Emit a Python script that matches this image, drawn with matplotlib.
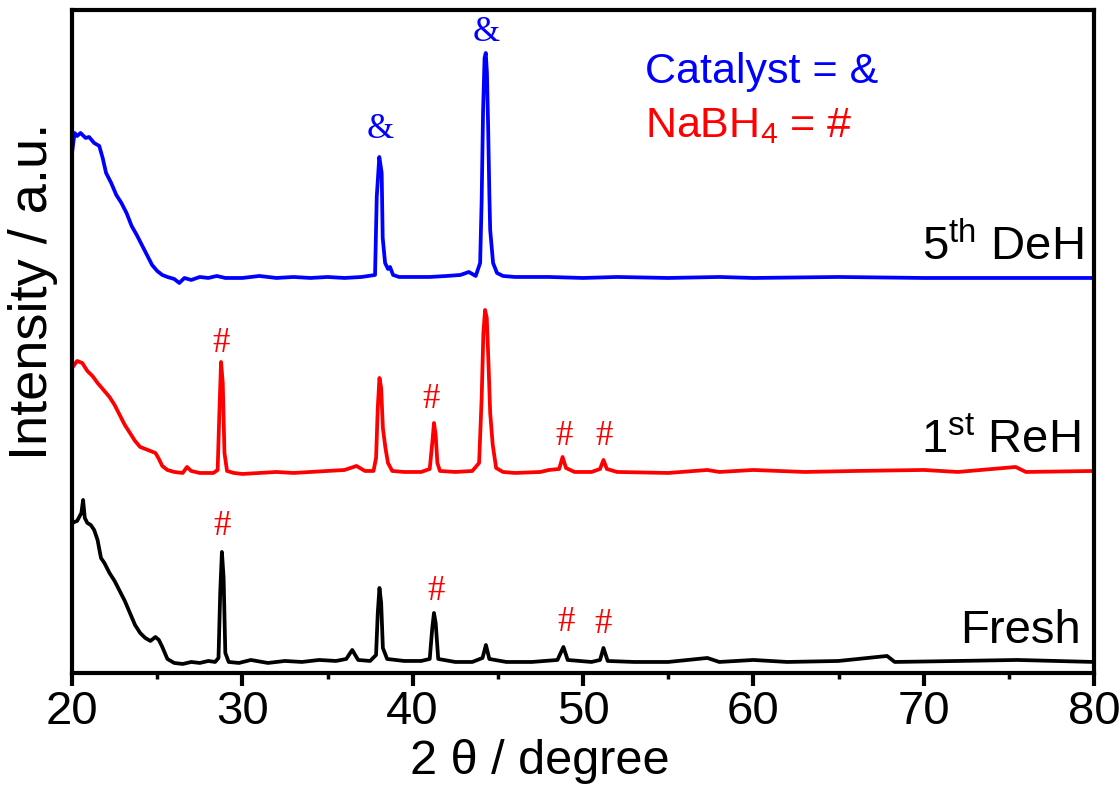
import matplotlib
matplotlib.use("Agg")
import matplotlib.pyplot as plt
from matplotlib.ticker import MultipleLocator

# XRD patterns, intensity in arbitrary units (curves already offset)
deh_x = [20.0, 20.15, 20.3, 20.5, 20.8, 21.0, 21.3, 21.6, 21.8, 22.0, 22.3, 22.6, 22.9,
         23.2, 23.5, 23.8, 24.1, 24.4, 24.7, 25.0, 25.3, 25.6, 26.0, 26.3, 26.6, 27.0,
         27.5, 28.0, 28.5, 29.0, 30.0, 31.0, 32.0, 33.0, 34.0, 35.0, 36.0, 37.0, 37.79,
         37.89, 38.04, 38.18, 38.24, 38.38, 38.55, 38.67, 38.85, 39.2, 40.0, 41.0, 42.0,
         42.8, 43.3, 43.7, 43.96, 44.05, 44.13, 44.22, 44.29, 44.36, 44.43, 44.5, 44.55,
         44.72, 44.95, 45.3, 46.0, 48.0, 50.0, 52.0, 55.0, 58.0, 60.0, 65.0, 70.0, 75.0, 80.0]
deh_y = [520, 540, 537, 540, 535, 536, 530, 527, 515, 500, 490, 478, 470,
         460, 447, 438, 428, 418, 408, 402, 398, 396, 394, 390, 395, 393,
         396, 395, 397, 395, 395, 397, 395, 396, 395, 396, 395, 396, 398,
         476, 516, 500, 435, 410, 404, 406, 398, 396, 396, 396, 397,
         398, 401, 397, 410, 473, 560, 615, 620, 600, 546, 480, 443,
         410, 400, 397, 396, 396, 395, 396, 395, 396, 395, 396, 395, 395, 395]

reh_x = [20.0, 20.3, 20.6, 20.9, 21.2, 21.5, 21.8, 22.2, 22.5, 22.8, 23.1, 23.4, 23.7,
         24.0, 24.3, 24.6, 24.9, 25.1, 25.3, 25.6, 26.0, 26.5, 26.75, 27.0, 27.5, 28.3,
         28.55, 28.65, 28.75, 28.85, 28.95, 29.1, 29.5, 30.0, 31.0, 32.0, 33.0, 34.0,
         35.0, 36.0, 36.7, 37.2, 37.7, 37.85, 37.95, 38.05, 38.15, 38.25, 38.4, 38.55,
         38.8, 39.5, 40.5, 41.0, 41.15, 41.25, 41.35, 41.45, 41.6, 42.5, 43.5, 43.9,
         44.05, 44.15, 44.25, 44.35, 44.45, 44.55, 44.7, 44.9, 45.3, 46.0, 47.5, 48.0,
         48.6, 48.8, 49.0, 49.5, 50.5, 51.0, 51.2, 51.4, 52.0, 55.0, 57.3, 58.0, 60.0,
         63.0, 66.0, 70.0, 72.0, 75.4, 76.0, 80.0]
reh_y = [305, 312, 310, 302, 297, 290, 284, 276, 268, 258, 248, 240, 232,
         226, 224, 222, 220, 214, 207, 203, 201, 200, 206, 202, 200, 200,
         203, 260, 311, 290, 220, 202, 200, 199, 200, 201, 200, 201,
         202, 203, 207, 202, 202, 215, 265, 295, 285, 245, 225, 210,
         202, 201, 201, 204, 230, 250, 238, 210, 202, 201, 202, 210,
         275, 340, 363, 355, 310, 260, 228, 205, 201, 200, 201, 203,
         204, 216, 205, 201, 201, 204, 213, 204, 201, 200, 203, 201, 203,
         201, 202, 203, 201, 206, 201, 202]

fresh_x = [20.0, 20.3, 20.55, 20.65, 20.75, 20.9, 21.1, 21.3, 21.5, 21.7, 21.9, 22.2,
           22.5, 22.8, 23.1, 23.4, 23.7, 24.0, 24.3, 24.6, 24.9, 25.1, 25.3, 25.6, 26.0,
           26.5, 27.0, 27.5, 28.0, 28.4, 28.6, 28.7, 28.8, 28.9, 29.0, 29.2, 29.8, 30.5,
           31.5, 32.5, 33.5, 34.5, 35.5, 36.1, 36.45, 36.8, 37.5, 37.85, 37.95, 38.05,
           38.15, 38.25, 38.5, 39.5, 40.5, 41.0, 41.15, 41.25, 41.35, 41.5, 42.5, 43.5,
           44.1, 44.3, 44.5, 45.5, 47.0, 48.5, 48.85, 49.1, 50.5, 51.0, 51.2, 51.45, 53.0,
           55.0, 57.3, 58.0, 60.0, 62.0, 65.0, 67.85, 68.3, 72.0, 75.5, 80.0]
fresh_y = [150, 152, 160, 173, 155, 150, 148, 143, 133, 115, 110, 100,
           92, 82, 72, 60, 48, 40, 35, 32, 36, 33, 26, 14, 10,
           9, 11, 10, 12, 11, 15, 80, 121, 95, 20, 11, 10, 13,
           10, 12, 11, 13, 12, 14, 23, 13, 12, 18, 60, 85,
           70, 25, 14, 12, 12, 14, 45, 60, 50, 14, 11, 11,
           15, 28, 14, 11, 11, 13, 26, 13, 11, 13, 25, 12, 11,
           11, 15, 11, 13, 11, 12, 17, 11, 12, 13, 11]

# phase markers: (position, height)
cat_marks = [(38.1, 543), (44.3, 640)]
nabh4_marks = [(28.75, 329), (41.05, 273), (48.9, 236), (51.25, 236),
               (28.8, 146), (41.4, 81), (49.0, 50), (51.2, 48)]

# sample labels: (text, right edge, baseline)
labels = [("5$^{\\rm th}$ DeH", 79.35, 413),
          ("1$^{\\rm st}$ ReH", 79.2, 220),
          ("Fresh", 79.2, 30)]

plt.rcParams['font.family'] = ['Liberation Sans', 'DejaVu Sans']
plt.rcParams['mathtext.fontset'] = 'custom'
plt.rcParams['mathtext.rm'] = 'Liberation Sans'
plt.rcParams['mathtext.it'] = 'Liberation Sans:italic'

fig = plt.figure(figsize=(11.2, 7.92), dpi=100)
ax = fig.add_axes([0.0643, 0.1503, 0.9125, 0.8371])

ax.plot(fresh_x, fresh_y, color="black", lw=2.7)
ax.plot(reh_x, reh_y, color="red", lw=2.7)
ax.plot(deh_x, deh_y, color="blue", lw=2.7)

for x, y in cat_marks:
    ax.text(x, y, "&", color="blue", fontsize=25, family="Liberation Serif",
            ha="center", va="center")
for x, y in nabh4_marks:
    ax.text(x, y, "#", color="red", fontsize=25, family="Liberation Serif",
            ha="center", va="center")

for txt, x, y in labels:
    ax.text(x, y, txt, fontsize=34, ha="right", va="baseline")

ax.text(53.65, 590, "Catalyst = &", color="blue", fontsize=31, va="baseline")
ax.text(53.65, 536, "NaBH$_4$ = #", color="red", fontsize=31, va="baseline")

ax.set_xlim(20, 80)
ax.set_ylim(0, 663)
ax.xaxis.set_major_locator(MultipleLocator(10))
ax.xaxis.set_minor_locator(MultipleLocator(5))
ax.set_yticks([])
ax.tick_params(axis="x", which="major", direction="out", length=9, width=3,
               labelsize=34, pad=3)
ax.tick_params(axis="x", which="minor", direction="out", length=4.5, width=2.5)
for s in ax.spines.values():
    s.set_linewidth(3)

ax.set_xlabel("2 θ / degree", fontsize=35)
ax.set_ylabel("Intensity / a.u.", fontsize=39)
ax.xaxis.set_label_coords(0.458, -0.1)
ax.yaxis.set_label_coords(-0.014, 0.576)

fig.savefig("out.png", dpi=100)
